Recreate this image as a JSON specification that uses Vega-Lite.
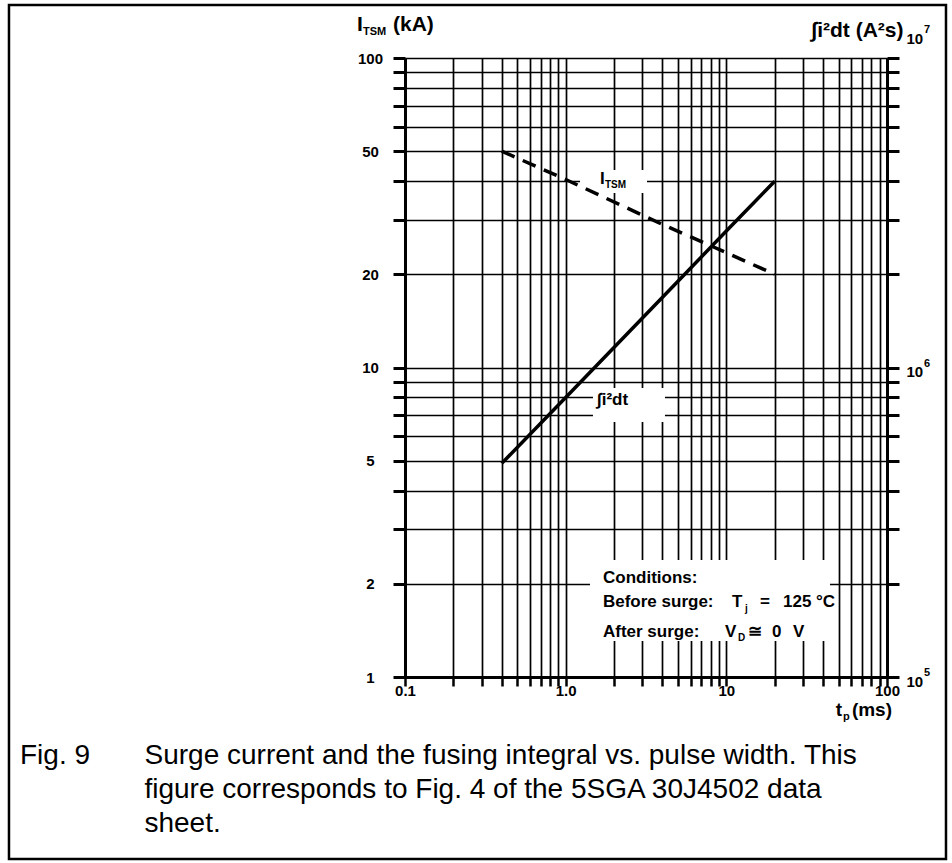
{
  "$schema": "https://vega.github.io/schema/vega-lite/v6.json",
  "width": 482,
  "height": 619,
  "autosize": "none",
  "padding": {"left": 405, "top": 58, "right": 65, "bottom": 186},
  "background": "white",
  "config": {
    "view": {"stroke": null},
    "font": "Liberation Sans",
    "axis": {"labelFont": "Liberation Sans", "titleFont": "Liberation Sans", "labelColor": "black", "titleColor": "black"}
  },
  "title": {
    "text": [
      "Fig. 9\u00a0\u00a0\u00a0\u00a0\u00a0\u00a0\u00a0Surge current and the fusing integral vs. pulse width. This",
      "\u200b\u00a0\u00a0\u00a0\u00a0\u00a0\u00a0\u00a0\u00a0\u00a0\u00a0\u00a0\u00a0\u00a0\u00a0\u00a0\u00a0figure corresponds to Fig. 4 of the 5SGA 30J4502 data",
      "\u200b\u00a0\u00a0\u00a0\u00a0\u00a0\u00a0\u00a0\u00a0\u00a0\u00a0\u00a0\u00a0\u00a0\u00a0\u00a0\u00a0sheet."
    ],
    "orient": "bottom",
    "anchor": "start",
    "frame": "group",
    "dx": -385,
    "offset": -118,
    "font": "Liberation Sans",
    "fontSize": 28,
    "fontWeight": "normal",
    "color": "black",
    "lineHeight": 34
  },
  "datasets": {
    "itsm": [
      {"x": 0.4, "y": 50},
      {"x": 1, "y": 40.5},
      {"x": 4, "y": 29},
      {"x": 10, "y": 23.5},
      {"x": 20, "y": 20}
    ],
    "i2t": [
      {"x": 0.4, "y": 490000},
      {"x": 1, "y": 800000},
      {"x": 5, "y": 1900000},
      {"x": 10, "y": 2760000},
      {"x": 20, "y": 4000000}
    ],
    "boxes": [
      {"x": 1.228, "x2": 3.208, "y": 43.5, "y2": 36.6},
      {"x": 1.479, "x2": 4.15, "y": 8.59, "y2": 6.67},
      {"x": 1.417, "x2": 44.2, "y": 2.388, "y2": 1.307}
    ],
    "notes": [
      {"t": "I", "x": 1.636, "y": 39.2},
      {"t": "∫i²dt", "x": 1.567, "y": 7.565},
      {"t": "Conditions:", "x": 1.707, "y": 2.013},
      {"t": "Before surge:", "x": 1.707, "y": 1.684},
      {"t": "T", "x": 10.84, "y": 1.684},
      {"t": "=", "x": 16.2, "y": 1.684},
      {"t": "125 °C", "x": 22.52, "y": 1.684},
      {"t": "After surge:", "x": 1.707, "y": 1.346},
      {"t": "V", "x": 9.81, "y": 1.346},
      {"t": "≅", "x": 13.64, "y": 1.346},
      {"t": "0", "x": 19.24, "y": 1.346},
      {"t": "V", "x": 25.99, "y": 1.346}
    ],
    "subs": [
      {"t": "TSM", "x": 1.757, "y": 38.0},
      {"t": "j", "x": 13.07, "y": 1.622},
      {"t": "D", "x": 11.82, "y": 1.307}
    ],
    "sups": [
      {"t": "5", "y": 100000},
      {"t": "6", "y": 1000000}
    ],
    "suptop": [
      {"t": "7", "y": 10000000}
    ]
  },
  "layer": [
    {
      "layer": [
        {
          "data": {"values": [{}]},
          "mark": {"type": "rect", "fillOpacity": 0, "stroke": "black", "strokeWidth": 2.5},
          "encoding": {
            "x": {"datum": 0.0003429, "type": "quantitative", "scale": {"type": "log", "domain": [0.1, 100]}},
            "x2": {"datum": 232.9},
            "y": {"datum": 148.3, "type": "quantitative", "scale": {"type": "log", "domain": [1, 100]}},
            "y2": {"datum": 0.2582}
          }
        },
        {
          "data": {"name": "boxes"},
          "mark": {"type": "rect", "fill": "white", "stroke": null},
          "encoding": {
            "x": {"field": "x", "type": "quantitative", "scale": {"type": "log", "domain": [0.1, 100]}},
            "x2": {"field": "x2"},
            "y": {"field": "y", "type": "quantitative", "scale": {"type": "log", "domain": [1, 100]}},
            "y2": {"field": "y2"}
          }
        },
        {
          "data": {"name": "itsm"},
          "mark": {"type": "line", "color": "black", "strokeWidth": 3.5, "strokeDash": [14, 9]},
          "encoding": {
            "x": {
              "field": "x", "type": "quantitative",
              "scale": {"type": "log", "domain": [0.1, 100]},
              "axis": {
                "values": [0.1, 0.2, 0.3, 0.4, 0.5, 0.6, 0.7, 0.8, 0.9, 1, 2, 3, 4, 5, 6, 7, 8, 9, 10, 20, 30, 40, 50, 60, 70, 80, 90, 100],
                "labelExpr": "datum.value == 0.1 ? '0.1' : datum.value == 1 ? '1.0' : datum.value == 10 ? '10' : datum.value == 100 ? '100' : ''",
                "title": null,
                "grid": true, "gridColor": "black", "gridWidth": 1.7, "gridOpacity": 1,
                "domainColor": "black", "domainWidth": 3,
                "tickColor": "black", "tickWidth": 2.5, "tickSize": 9,
                "labelFontSize": 15, "labelFontWeight": "bold", "labelPadding": -3,
                "labelFlush": false, "labelOverlap": false
              }
            },
            "y": {
              "field": "y", "type": "quantitative",
              "scale": {"type": "log", "domain": [1, 100]},
              "axis": {
                "orient": "left",
                "values": [1, 2, 3, 4, 5, 6, 7, 8, 9, 10, 20, 30, 40, 50, 60, 70, 80, 90, 100],
                "labelExpr": "indexof([1, 2, 5, 10, 20, 50, 100], datum.value) >= 0 ? '' + datum.value : ''",
                "title": null,
                "grid": true, "gridColor": "black", "gridWidth": 1.7, "gridOpacity": 1,
                "domainColor": "black", "domainWidth": 3,
                "tickColor": "black", "tickWidth": 3, "tickSize": 12,
                "labelFontSize": 15, "labelFontWeight": "bold", "labelAlign": "center", "labelPadding": 23,
                "labelFlush": false, "labelOverlap": false
              }
            }
          }
        },
        {
          "data": {"name": "notes"},
          "mark": {"type": "text", "align": "left", "baseline": "alphabetic", "font": "Liberation Sans", "fontSize": 17, "fontWeight": "bold", "color": "black"},
          "encoding": {
            "x": {"field": "x", "type": "quantitative", "scale": {"type": "log", "domain": [0.1, 100]}},
            "y": {"field": "y", "type": "quantitative", "scale": {"type": "log", "domain": [1, 100]}},
            "text": {"field": "t"}
          }
        },
        {
          "data": {"name": "subs"},
          "mark": {"type": "text", "align": "left", "baseline": "alphabetic", "font": "Liberation Sans", "fontSize": 10, "fontWeight": "bold", "color": "black"},
          "encoding": {
            "x": {"field": "x", "type": "quantitative", "scale": {"type": "log", "domain": [0.1, 100]}},
            "y": {"field": "y", "type": "quantitative", "scale": {"type": "log", "domain": [1, 100]}},
            "text": {"field": "t"}
          }
        },
        {
          "data": {"values": [{}]},
          "mark": {"type": "text", "align": "left", "baseline": "alphabetic", "font": "Liberation Sans", "fontSize": 21, "fontWeight": "bold", "color": "black", "dx": -48, "dy": -27},
          "encoding": {
            "x": {"datum": 0.1, "type": "quantitative", "scale": {"type": "log", "domain": [0.1, 100]}},
            "y": {"datum": 100, "type": "quantitative", "scale": {"type": "log", "domain": [1, 100]}},
            "text": {"value": "I"}
          }
        },
        {
          "data": {"values": [{}]},
          "mark": {"type": "text", "align": "left", "baseline": "alphabetic", "font": "Liberation Sans", "fontSize": 11, "fontWeight": "bold", "color": "black", "dx": -42, "dy": -23},
          "encoding": {
            "x": {"datum": 0.1, "type": "quantitative", "scale": {"type": "log", "domain": [0.1, 100]}},
            "y": {"datum": 100, "type": "quantitative", "scale": {"type": "log", "domain": [1, 100]}},
            "text": {"value": "TSM"}
          }
        },
        {
          "data": {"values": [{}]},
          "mark": {"type": "text", "align": "left", "baseline": "alphabetic", "font": "Liberation Sans", "fontSize": 21, "fontWeight": "bold", "color": "black", "dx": -12, "dy": -27},
          "encoding": {
            "x": {"datum": 0.1, "type": "quantitative", "scale": {"type": "log", "domain": [0.1, 100]}},
            "y": {"datum": 100, "type": "quantitative", "scale": {"type": "log", "domain": [1, 100]}},
            "text": {"value": "(kA)"}
          }
        },
        {
          "data": {"values": [{}]},
          "mark": {"type": "text", "align": "right", "baseline": "alphabetic", "font": "Liberation Sans", "fontSize": 19, "fontWeight": "bold", "color": "black", "dx": -45, "dy": 39},
          "encoding": {
            "x": {"datum": 100, "type": "quantitative", "scale": {"type": "log", "domain": [0.1, 100]}},
            "y": {"datum": 1, "type": "quantitative", "scale": {"type": "log", "domain": [1, 100]}},
            "text": {"value": "t"}
          }
        },
        {
          "data": {"values": [{}]},
          "mark": {"type": "text", "align": "left", "baseline": "alphabetic", "font": "Liberation Sans", "fontSize": 11, "fontWeight": "bold", "color": "black", "dx": -44, "dy": 43},
          "encoding": {
            "x": {"datum": 100, "type": "quantitative", "scale": {"type": "log", "domain": [0.1, 100]}},
            "y": {"datum": 1, "type": "quantitative", "scale": {"type": "log", "domain": [1, 100]}},
            "text": {"value": "p"}
          }
        },
        {
          "data": {"values": [{}]},
          "mark": {"type": "text", "align": "right", "baseline": "alphabetic", "font": "Liberation Sans", "fontSize": 19, "fontWeight": "bold", "color": "black", "dx": 5, "dy": 39},
          "encoding": {
            "x": {"datum": 100, "type": "quantitative", "scale": {"type": "log", "domain": [0.1, 100]}},
            "y": {"datum": 1, "type": "quantitative", "scale": {"type": "log", "domain": [1, 100]}},
            "text": {"value": "(ms)"}
          }
        }
      ]
    },
    {
      "layer": [
        {
          "data": {"name": "i2t"},
          "mark": {"type": "line", "color": "black", "strokeWidth": 3.5},
          "encoding": {
            "x": {"field": "x", "type": "quantitative", "scale": {"type": "log", "domain": [0.1, 100]}},
            "y": {
              "field": "y", "type": "quantitative",
              "scale": {"type": "log", "domain": [100000, 10000000]},
              "axis": {
                "orient": "right",
                "values": [100000, 200000, 300000, 400000, 500000, 600000, 700000, 800000, 900000, 1000000, 2000000, 3000000, 4000000, 5000000, 6000000, 7000000, 8000000, 9000000, 10000000],
                "labelExpr": "indexof([100000, 1000000, 10000000], datum.value) >= 0 ? '10' : ''",
                "grid": false,
                "domainColor": "black", "domainWidth": 3,
                "tickColor": "black", "tickWidth": 3, "tickSize": 12,
                "labelFontSize": 15, "labelFontWeight": "bold", "labelPadding": 7,
                "labelOffset": {"condition": {"test": "datum.value > 5000000", "value": -20}, "value": 4},
                "labelFlush": false, "labelOverlap": false,
                "title": "∫i²dt (A²s)",
                "titleAngle": 0, "titleAlign": "right", "titleBaseline": "alphabetic",
                "titleX": 16, "titleY": -22,
                "titleFontSize": 21, "titleFontWeight": "bold"
              }
            }
          }
        },
        {
          "data": {"name": "sups"},
          "mark": {"type": "text", "align": "left", "baseline": "alphabetic", "font": "Liberation Sans", "fontSize": 11, "fontWeight": "bold", "color": "black", "dx": 37, "dy": -1},
          "encoding": {
            "x": {"datum": 100, "type": "quantitative", "scale": {"type": "log", "domain": [0.1, 100]}},
            "y": {"field": "y", "type": "quantitative", "scale": {"type": "log", "domain": [100000, 10000000]}},
            "text": {"field": "t"}
          }
        },
        {
          "data": {"name": "suptop"},
          "mark": {"type": "text", "align": "left", "baseline": "alphabetic", "font": "Liberation Sans", "fontSize": 11, "fontWeight": "bold", "color": "black", "dx": 37, "dy": -25},
          "encoding": {
            "x": {"datum": 100, "type": "quantitative", "scale": {"type": "log", "domain": [0.1, 100]}},
            "y": {"field": "y", "type": "quantitative", "scale": {"type": "log", "domain": [100000, 10000000]}},
            "text": {"field": "t"}
          }
        }
      ]
    }
  ],
  "resolve": {"scale": {"y": "independent"}}
}
